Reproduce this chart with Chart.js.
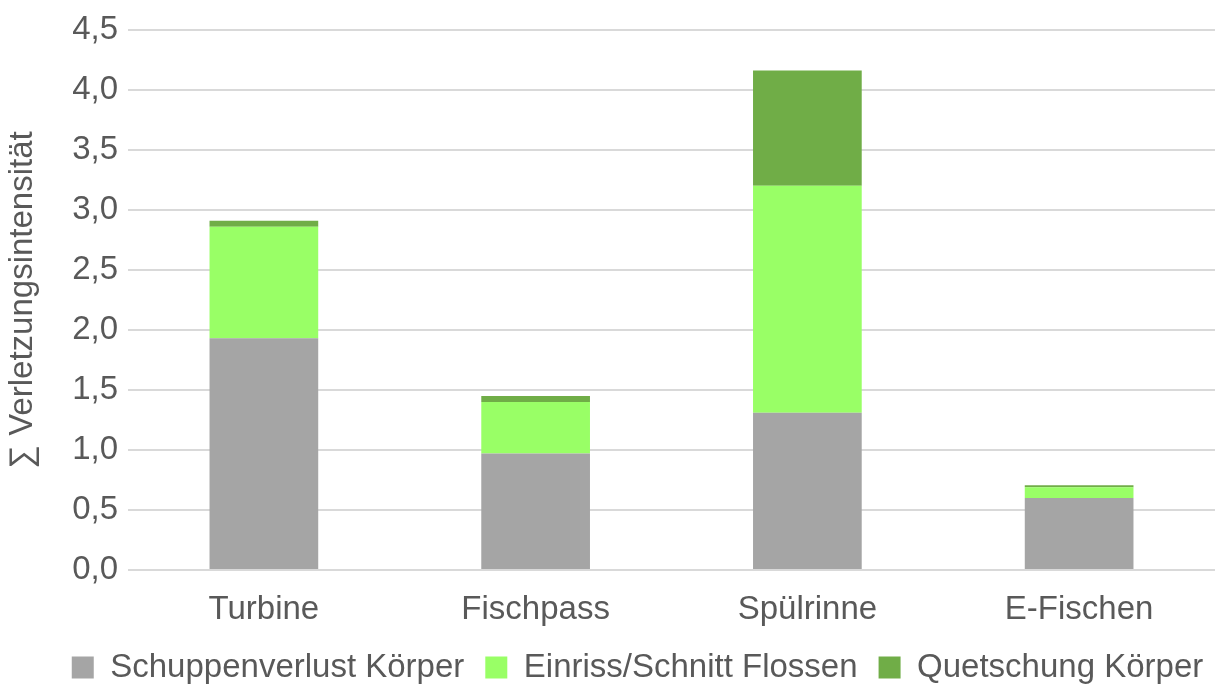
<!DOCTYPE html>
<html>
<head>
<meta charset="utf-8">
<script src="https://cdn.jsdelivr.net/npm/chart.js@4"></script>
<style>
  html, body { margin: 0; padding: 0; background: #ffffff; }
  #wrap { width: 1226px; height: 684px; }
</style>
</head>
<body>
<div id="wrap"><canvas id="c" width="1226" height="684"></canvas></div>
<script>
// Kategorien (Fangmethode / Passageweg)
const categories = ['Turbine', 'Fischpass', 'Spülrinne', 'E-Fischen'];

// Summierte Verletzungsintensität je Verletzungsart
const schuppenverlust = [1.93, 0.97, 1.31, 0.60];
const einrissFlossen  = [0.93, 0.43, 1.89, 0.09];
const quetschung      = [0.05, 0.05, 0.96, 0.015];

const seriesNames = ['Schuppenverlust Körper', 'Einriss/Schnitt Flossen', 'Quetschung Körper'];
const seriesColors = ['#a5a5a5', '#99ff66', '#70ad47'];

const yTicks = [0, 0.5, 1, 1.5, 2, 2.5, 3, 3.5, 4, 4.5];

const textColor = '#595959';
const fontFamily = '"Liberation Sans", Arial, Helvetica, sans-serif';
const fontSize = 33;

Chart.defaults.font.family = fontFamily;
Chart.defaults.color = textColor;

// Legende etwas nach rechts versetzt
const legendShift = {
  id: 'legendShift',
  afterLayout(chart) {
    const lg = chart.legend;
    if (lg) { lg.left += 30; lg.right += 30; }
  }
};

new Chart(document.getElementById('c'), {
  type: 'bar',
  data: {
    labels: categories,
    datasets: [schuppenverlust, einrissFlossen, quetschung].map((vals, i) => ({
      label: seriesNames[i],
      data: vals,
      backgroundColor: seriesColors[i],
      borderWidth: 0,
      categoryPercentage: 1.0,
      barPercentage: 0.4
    }))
  },
  plugins: [legendShift],
  options: {
    responsive: false,
    animation: false,
    layout: { padding: { top: 10, right: 11, left: 0, bottom: -10 } },
    plugins: {
      tooltip: { enabled: false },
      legend: {
        position: 'bottom',
        labels: {
          boxWidth: 22,
          boxHeight: 22,
          padding: 21,
          color: textColor,
          font: { size: fontSize }
        }
      }
    },
    scales: {
      x: {
        stacked: true,
        afterFit: (scale) => { scale.height = 60; },
        grid: { display: false, drawTicks: false },
        border: { display: false },
        ticks: { color: textColor, font: { size: fontSize }, padding: 20 }
      },
      y: {
        stacked: true,
        min: 0,
        max: 4.5,
        afterBuildTicks: (scale) => { scale.ticks = yTicks.map(v => ({ value: v })); },
        afterFit: (scale) => { scale.width = 128; },
        grid: { color: '#d9d9d9', lineWidth: 2, drawTicks: false },
        border: { display: false },
        ticks: {
          color: textColor,
          font: { size: fontSize },
          padding: 10,
          callback: (v) => Number(v).toFixed(1).replace('.', ',')
        },
        title: {
          display: true,
          text: '∑ Verletzungsintensität',
          color: textColor,
          font: { size: fontSize },
          padding: { top: 3, bottom: 0 }
        }
      }
    }
  }
});
</script>
</body>
</html>
